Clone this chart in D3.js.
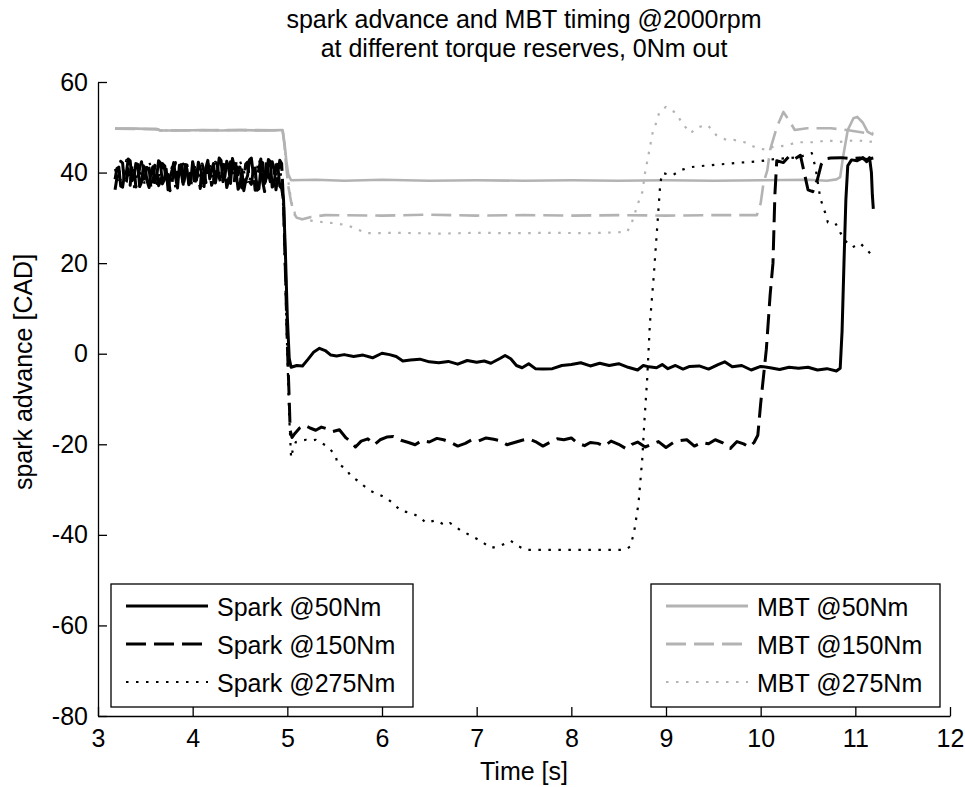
<!DOCTYPE html>
<html>
<head>
<meta charset="utf-8">
<script src="https://cdn.jsdelivr.net/npm/d3@7"></script>
<style>
  body { margin: 0; background: #fff; }
  text { font-family: "Liberation Sans", Arial, sans-serif; }
</style>
</head>
<body>
<script>
// data: [time s, spark advance CAD]
const spark50 = [
  [3.18,38.5],[3.20,40.9],[3.22,41.2],[3.24,37.0],[3.26,36.8],[3.28,39.6],[3.30,40.1],[3.32,43.0],[3.34,42.6],[3.36,38.2],
  [3.38,39.0],[3.40,42.0],[3.42,41.8],[3.44,36.9],[3.46,37.9],[3.48,41.5],[3.50,40.6],[3.52,38.0],[3.54,36.7],[3.56,40.2],
  [3.58,41.3],[3.60,37.8],[3.62,39.2],[3.64,42.6],[3.66,42.1],[3.68,37.5],[3.70,38.4],[3.72,40.8],[3.74,36.2],[3.76,39.0],
  [3.78,40.3],[3.80,42.2],[3.82,38.8],[3.84,36.6],[3.86,41.6],[3.88,39.9],[3.90,37.4],[3.92,41.8],[3.94,40.7],[3.96,37.3],
  [3.98,38.1],[4.00,42.4],[4.02,40.2],[4.04,38.3],[4.06,42.3],[4.08,41.0],[4.10,39.4],[4.12,36.9],[4.14,41.1],[4.16,42.7],
  [4.18,38.6],[4.20,40.5],[4.22,42.0],[4.24,37.7],[4.26,40.1],[4.28,43.2],[4.30,42.7],[4.32,38.0],[4.34,39.1],[4.36,42.5],
  [4.38,41.2],[4.40,37.6],[4.42,43.1],[4.44,41.4],[4.46,40.0],[4.48,36.3],[4.50,37.1],[4.52,40.6],[4.54,36.0],[4.56,38.2],
  [4.58,39.3],[4.60,42.8],[4.62,43.2],[4.64,39.7],[4.66,41.0],[4.68,36.1],[4.70,36.4],[4.72,40.9],[4.74,42.2],[4.76,37.6],
  [4.78,38.9],[4.80,42.9],[4.82,42.4],[4.84,36.8],[4.86,37.2],[4.88,41.7],[4.90,41.3],[4.92,37.0],[4.94,36.5],
  [4.96,34],[4.98,22],[5.00,8],[5.02,-1],[5.04,-3.0],[5.10,-2.6],[5.16,-2.7],[5.22,-1.2],[5.28,0.4],[5.34,1.2],
  [5.40,0.7],[5.46,-0.3],[5.52,-0.5],[5.60,-0.2],[5.70,-0.6],[5.80,-0.3],[5.90,-0.9],[6.00,0.1],[6.08,-0.2],[6.15,-0.6],
  [6.22,-1.6],[6.30,-1.4],[6.40,-1.2],[6.50,-1.8],[6.60,-2.0],[6.70,-1.7],[6.80,-2.3],[6.90,-1.5],[7.00,-1.9],[7.08,-1.6],
  [7.15,-2.1],[7.25,-1.0],[7.30,-0.4],[7.36,-1.1],[7.42,-2.6],[7.48,-3.1],[7.55,-2.2],[7.62,-3.3],[7.70,-3.4],[7.80,-3.3],
  [7.90,-2.6],[8.00,-2.4],[8.10,-2.0],[8.20,-2.7],[8.30,-2.1],[8.40,-2.6],[8.50,-2.2],[8.60,-3.0],[8.70,-3.6],[8.76,-2.6],
  [8.82,-2.9],[8.90,-3.1],[8.96,-2.4],[9.02,-3.3],[9.10,-2.6],[9.18,-3.4],[9.25,-2.8],[9.35,-2.7],[9.45,-3.4],[9.55,-2.4],
  [9.62,-1.8],[9.70,-2.9],[9.80,-2.6],[9.90,-3.6],[10.00,-2.8],[10.10,-3.1],[10.20,-3.5],[10.30,-3.0],[10.40,-3.2],[10.50,-3.0],
  [10.60,-3.6],[10.70,-3.3],[10.80,-3.8],[10.84,-3.2],[10.86,5],[10.88,20],[10.90,34],[10.92,41.5],[10.96,42.8],[11.02,42.6],
  [11.08,43.3],[11.12,42.4],[11.15,43.3],[11.17,40],[11.18,35],[11.19,32]
];

const spark150 = [
  [3.18,36.2],[3.20,38.8],[3.22,39.5],[3.24,42.5],[3.26,42.1],[3.28,37.4],[3.30,38.0],[3.32,40.7],[3.34,37.2],[3.36,41.9],
  [3.38,41.4],[3.40,36.8],[3.42,38.3],[3.44,41.0],[3.46,42.4],[3.48,38.5],[3.50,39.1],[3.52,42.2],[3.54,41.0],[3.56,36.4],
  [3.58,37.6],[3.60,41.6],[3.62,40.8],[3.64,37.1],[3.66,38.0],[3.68,42.0],[3.70,41.5],[3.72,38.2],[3.74,39.6],[3.76,36.0],
  [3.78,37.3],[3.80,41.1],[3.82,42.2],[3.84,38.7],[3.86,39.8],[3.88,42.6],[3.90,36.9],[3.92,39.4],[3.94,41.7],[3.96,37.6],
  [3.98,40.3],[4.00,42.1],[4.02,37.0],[4.04,40.6],[4.06,39.4],[4.08,36.5],[4.10,41.9],[4.12,40.2],[4.14,37.8],[4.16,42.0],
  [4.18,40.6],[4.20,37.2],[4.22,38.2],[4.24,42.3],[4.26,41.7],[4.28,38.9],[4.30,37.6],[4.32,41.8],[4.34,40.9],[4.36,36.7],
  [4.38,38.3],[4.40,42.4],[4.42,39.6],[4.44,37.9],[4.46,42.8],[4.48,39.5],[4.50,41.2],[4.52,36.6],[4.54,38.4],[4.56,41.9],
  [4.58,42.3],[4.60,38.0],[4.62,37.4],[4.64,40.5],[4.66,36.1],[4.68,39.0],[4.70,40.8],[4.72,43.0],[4.74,37.9],[4.76,35.8],
  [4.78,42.6],[4.80,40.0],[4.82,38.0],[4.84,42.4],[4.86,40.7],[4.88,36.2],[4.90,39.2],[4.92,42.7],[4.94,42.0],
  [4.96,33],[4.98,18],[5.00,2],[5.02,-10],[5.03,-17],[5.05,-18.5],[5.08,-17.6],[5.13,-16.4],[5.18,-15.8],[5.24,-16.4],
  [5.30,-16.9],[5.36,-16.2],[5.42,-16.6],[5.48,-17.2],[5.55,-16.8],[5.62,-18.6],[5.68,-19.6],[5.72,-20.6],[5.78,-19.3],[5.85,-18.8],
  [5.92,-20.1],[5.98,-19.0],[6.05,-18.4],[6.12,-18.3],[6.20,-19.1],[6.28,-19.6],[6.35,-20.1],[6.42,-19.2],[6.50,-19.5],[6.58,-18.7],
  [6.65,-19.0],[6.72,-19.5],[6.80,-20.4],[6.88,-19.8],[6.95,-19.0],[7.02,-19.3],[7.10,-18.6],[7.18,-18.9],[7.25,-19.2],[7.32,-20.1],
  [7.40,-19.6],[7.48,-19.1],[7.55,-18.8],[7.62,-19.4],[7.70,-20.4],[7.78,-19.5],[7.85,-18.8],[7.92,-19.0],[8.00,-18.6],[8.07,-19.8],
  [8.14,-20.3],[8.20,-19.6],[8.28,-19.8],[8.35,-20.4],[8.42,-19.3],[8.50,-20.0],[8.58,-21.0],[8.64,-20.0],[8.70,-19.5],[8.78,-20.6],
  [8.85,-20.0],[8.92,-19.4],[9.00,-20.7],[9.08,-19.6],[9.15,-19.2],[9.22,-19.0],[9.30,-20.4],[9.38,-19.6],[9.45,-19.9],[9.52,-19.0],
  [9.60,-19.7],[9.68,-20.9],[9.75,-19.4],[9.82,-19.9],[9.88,-20.6],[9.93,-19.6],[9.97,-18.0],[10.00,-11],[10.06,1],[10.10,13],
  [10.13,20],[10.15,35],[10.17,42.6],[10.24,42.2],[10.30,43.6],[10.36,43.0],[10.42,43.8],[10.46,40],[10.50,36.2],[10.55,35.8],
  [10.60,38.5],[10.64,41.8],[10.68,43.0],[10.74,43.2],[10.85,43.3],[10.95,43.1],[11.05,43.2],[11.12,42.9],[11.19,43.2]
];

const spark275 = [
  [3.18,40.8],[3.22,37.3],[3.26,39.7],[3.30,42.8],[3.34,38.9],[3.38,36.8],[3.42,40.4],[3.46,39.6],[3.50,37.1],[3.54,42.4],
  [3.58,39.9],[3.62,37.5],[3.66,40.7],[3.70,42.5],[3.74,38.0],[3.78,41.2],[3.82,36.4],[3.86,39.3],[3.90,42.0],[3.94,38.5],
  [3.98,36.6],[4.02,41.6],[4.06,38.0],[4.10,36.8],[4.14,40.5],[4.18,42.1],[4.22,37.5],[4.26,38.9],[4.30,40.6],[4.34,42.2],
  [4.38,37.0],[4.42,41.5],[4.46,38.6],[4.50,42.5],[4.54,40.4],[4.58,37.2],[4.62,39.4],[4.66,38.8],[4.70,42.9],[4.74,40.0],
  [4.78,37.5],[4.82,39.6],[4.86,36.8],[4.90,42.9],[4.94,38.6],
  [4.96,31],[4.98,15],[5.00,0],[5.02,-14],[5.04,-23],[5.06,-21],[5.09,-19.5],[5.14,-19.2],[5.20,-19.0],[5.25,-19.2],
  [5.30,-19.0],[5.35,-19.6],[5.40,-20.2],[5.44,-20.8],[5.51,-22.5],[5.53,-24.3],[5.62,-25.4],[5.67,-27.0],[5.74,-28.0],[5.81,-29.2],
  [5.88,-30.3],[5.96,-31.0],[6.04,-31.8],[6.12,-33.1],[6.20,-34.7],[6.30,-35.1],[6.41,-36.2],[6.46,-37.3],[6.57,-36.8],[6.67,-37.9],
  [6.72,-37.4],[6.83,-39.0],[6.94,-40.2],[7.04,-41.3],[7.15,-42.9],[7.25,-42.4],[7.36,-41.3],[7.43,-42.4],[7.52,-43.3],[7.70,-43.3],
  [8.00,-43.3],[8.30,-43.3],[8.57,-43.3],[8.62,-42.6],[8.66,-39.8],[8.71,-33.0],[8.75,-23.0],[8.77,-15.5],[8.80,-6.0],[8.83,6.7],
  [8.87,17.0],[8.91,28.8],[8.94,37.7],[8.96,39.9],[9.07,39.4],[9.15,40.5],[9.26,41.2],[9.40,41.5],[9.57,41.8],[9.78,42.2],
  [9.99,42.5],[10.15,43.0],[10.31,43.2],[10.42,43.5],[10.54,44.3],[10.58,41],[10.63,34.3],[10.68,31.2],[10.71,29.0],[10.79,28.8],
  [10.84,26.8],[10.89,25.0],[10.97,23.5],[11.05,24.4],[11.13,22.8],[11.19,21.3]
];

const mbt50 = [
  [3.18,49.7],[3.40,49.7],[3.62,49.6],[3.66,49.3],[3.90,49.3],[4.10,49.4],[4.30,49.3],[4.50,49.4],[4.70,49.3],[4.95,49.4],
  [4.97,46.5],[4.99,42.5],[5.01,39.6],[5.04,38.3],[5.30,38.4],[5.60,38.2],[6.00,38.4],[6.50,38.2],[7.00,38.3],[7.50,38.2],
  [8.00,38.3],[8.50,38.2],[9.00,38.3],[9.50,38.2],[10.00,38.3],[10.50,38.4],[10.70,38.2],[10.80,38.5],[10.84,39.0],[10.87,43.4],
  [10.92,49.4],[10.98,52.0],[11.02,52.3],[11.08,51.0],[11.13,49.0],[11.19,48.3]
];

const mbt150 = [
  [3.18,49.7],[3.62,49.6],[3.66,49.3],[4.50,49.4],[4.95,49.3],[4.97,46],[4.99,41],[5.01,37],[5.04,33.5],[5.07,31],
  [5.10,30.0],[5.16,29.7],[5.25,30.2],[5.40,30.6],[6.00,30.5],[6.50,30.7],[7.00,30.5],[7.50,30.6],[8.00,30.5],[8.50,30.6],
  [9.00,30.5],[9.50,30.6],[9.96,30.6],[10.00,33.2],[10.03,37.7],[10.07,40.5],[10.10,45.0],[10.17,50.0],[10.24,53.4],[10.31,51.2],
  [10.36,49.4],[10.49,49.8],[10.74,49.8],[10.91,49.4],[11.12,48.7],[11.19,48.7]
];

const mbt275 = [
  [3.18,49.7],[3.62,49.6],[3.66,49.3],[4.50,49.4],[4.95,49.3],[4.97,46],[4.99,42],[5.02,36.5],[5.05,33],[5.08,31],
  [5.12,29.8],[5.25,29.4],[5.40,29.0],[5.51,28.8],[5.62,28.4],[5.72,27.7],[5.83,26.6],[6.20,26.7],[6.60,26.5],[7.00,26.7],
  [7.40,26.6],[7.80,26.7],[8.20,26.6],[8.59,26.9],[8.64,29.0],[8.71,33.5],[8.75,35.7],[8.78,40.1],[8.80,42.3],[8.82,44.5],
  [8.84,46.7],[8.86,48.9],[8.90,51.2],[8.93,53.4],[9.00,54.5],[9.11,53.1],[9.17,50.9],[9.26,48.7],[9.33,50.0],[9.44,50.5],
  [9.53,48.3],[9.64,47.2],[9.72,47.2],[9.83,46.7],[9.96,45.4],[10.07,45.0],[10.12,45.6],[10.28,46.0],[10.38,46.7],[10.60,46.7],
  [10.70,47.2],[10.81,46.7],[11.02,47.2],[11.13,46.7],[11.19,46.9]
];

const sparkLabels = ["Spark @50Nm", "Spark @150Nm", "Spark @275Nm"];
const mbtLabels = ["MBT @50Nm", "MBT @150Nm", "MBT @275Nm"];
const xTicks = [3, 4, 5, 6, 7, 8, 9, 10, 11, 12];
const yTicks = [-80, -60, -40, -20, 0, 20, 40, 60];
const titleLines = ["spark advance and MBT timing @2000rpm", "at different torque reserves, 0Nm out"];

const W = 965, H = 787;
const margin = {left: 98, right: 15, top: 82, bottom: 71};
const width = W - margin.left - margin.right;
const height = H - margin.top - margin.bottom;
const FS = 25;

const gray = "#b3b3b3";
const dashes = {solid: null, dashed: "20,8", dotted: "2.5,7.5"};

const svg = d3.select("body").append("svg")
  .attr("width", W)
  .attr("height", H)
  .style("background", "#fff");

const g = svg.append("g")
  .attr("transform", `translate(${margin.left},${margin.top})`);

const x = d3.scaleLinear().domain([3, 12]).range([0, width]);
const y = d3.scaleLinear().domain([-80, 60]).range([height, 0]);

const line = d3.line().x(d => x(d[0])).y(d => y(d[1]));

// gray MBT curves first, black spark curves on top
const series = [
  {data: mbt50, color: gray, dash: dashes.solid, w: 2.6},
  {data: mbt150, color: gray, dash: dashes.dashed, w: 2.6},
  {data: mbt275, color: gray, dash: dashes.dotted, w: 2.2},
  {data: spark50, color: "#000", dash: dashes.solid, w: 3},
  {data: spark150, color: "#000", dash: dashes.dashed, w: 3},
  {data: spark275, color: "#000", dash: dashes.dotted, w: 2.2}
];

g.selectAll(".curve")
  .data(series)
  .enter().append("path")
  .attr("class", "curve")
  .attr("d", d => line(d.data))
  .attr("fill", "none")
  .attr("stroke", d => d.color)
  .attr("stroke-width", d => d.w)
  .attr("stroke-dasharray", d => d.dash)
  .attr("stroke-linejoin", "round");

// axes (box off, ticks inward)
const xAxis = d3.axisBottom(x).tickValues(xTicks).tickFormat(d => String(d))
  .tickSizeInner(-9).tickSizeOuter(0).tickPadding(13);
const yAxis = d3.axisLeft(y).tickValues(yTicks).tickFormat(d => String(d))
  .tickSizeInner(-9).tickSizeOuter(0).tickPadding(10);

const gx = g.append("g")
  .attr("transform", `translate(0,${height})`)
  .call(xAxis);
const gy = g.append("g").call(yAxis);

[gx, gy].forEach(a => {
  a.selectAll("path, line").attr("stroke", "#000").attr("stroke-width", 1.3);
  a.selectAll("text")
    .attr("fill", "#000")
    .style("font-size", FS + "px")
    .style("font-family", '"Liberation Sans", Arial, sans-serif');
});

// title
svg.selectAll(".title")
  .data(titleLines)
  .enter().append("text")
  .attr("class", "title")
  .attr("x", margin.left + width / 2)
  .attr("y", (d, i) => 28 + i * 29)
  .attr("text-anchor", "middle")
  .style("font-size", FS + "px")
  .text(d => d);

// axis labels
svg.append("text")
  .attr("x", margin.left + width / 2)
  .attr("y", 780)
  .attr("text-anchor", "middle")
  .style("font-size", FS + "px")
  .text("Time [s]");

svg.append("text")
  .attr("transform", "translate(32,372) rotate(-90)")
  .attr("text-anchor", "middle")
  .style("font-size", FS + "px")
  .text("spark advance [CAD]");

// legends
const legendStyles = [dashes.solid, dashes.dashed, dashes.dotted];
const legendWidths = [3, 3, 2];
const rowY = [606, 644, 682];

function drawLegend(labels, color, box) {
  const lg = svg.append("g").attr("class", "legend");
  lg.append("rect")
    .attr("x", box.x).attr("y", 584)
    .attr("width", box.w).attr("height", 123)
    .attr("fill", "#fff")
    .attr("stroke", "#000")
    .attr("stroke-width", 1.3);
  const row = lg.selectAll(".row")
    .data(labels)
    .enter().append("g")
    .attr("transform", (d, i) => `translate(0,${rowY[i]})`);
  row.append("line")
    .attr("x1", box.x + 15).attr("x2", box.x + 97)
    .attr("stroke", color)
    .attr("stroke-width", (d, i) => legendWidths[i])
    .attr("stroke-dasharray", (d, i) => legendStyles[i]);
  row.append("text")
    .attr("x", box.x + 106)
    .attr("y", 10)
    .style("font-size", FS + "px")
    .text(d => d);
}

drawLegend(sparkLabels, "#000", {x: 111, w: 302});
drawLegend(mbtLabels, gray, {x: 651, w: 289});
</script>
</body>
</html>
